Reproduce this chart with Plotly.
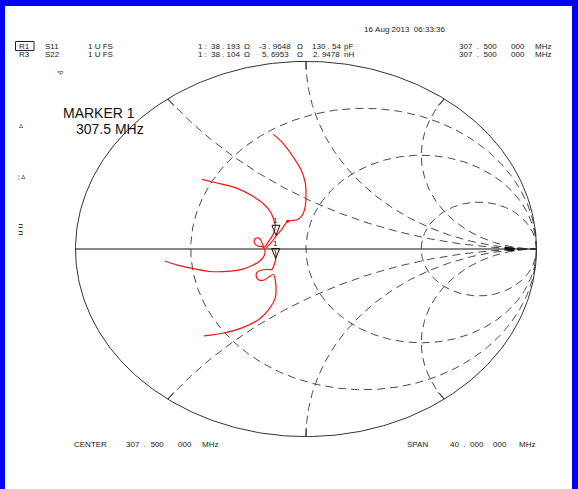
import numpy as np
import plotly.graph_objects as go

W, H = 578, 489
L, R, T, B = 64, 30, 52, 43
RANGE = 1.05
UX = (W - L - R) / (2 * RANGE)
UY = (H - T - B) / (2 * RANGE)

# Smith chart grid values
r_circles = [1 / 3, 1.0, 3.0]
x_arcs = [0.5, 1.0, 2.0, -0.5, -1.0, -2.0]

# Marker 1 readouts (ohm) at 307.5 MHz, reference impedance 50 ohm
z_ref = 50.0
marker_R = [38.193, 38.104]
marker_X = [-3.9648, 5.6953]

seg_a_re = [-0.142, -0.101, -0.058, -0.022, -0.003, 0.000, -0.003, -0.014, -0.036, -0.065,
            -0.080, -0.101, -0.130, -0.152, -0.174]
seg_a_im = [0.611, 0.566, 0.495, 0.424, 0.353, 0.282, 0.228, 0.184, 0.157, 0.152,
            0.148, 0.113, 0.068, 0.033, 0.006]
seg_b_re = [-0.452, -0.391, -0.304, -0.232, -0.181, -0.152, -0.138, -0.133, -0.143, -0.165,
            -0.183, -0.191, -0.209, -0.222, -0.224, -0.213, -0.200, -0.191, -0.183, -0.178,
            -0.181, -0.200, -0.229, -0.274, -0.330, -0.417, -0.504, -0.561, -0.613]
seg_b_im = [0.371, 0.353, 0.326, 0.282, 0.237, 0.193, 0.148, 0.122, 0.077, 0.035,
            0.008, 0.013, 0.016, 0.029, 0.048, 0.059, 0.053, 0.035, 0.005, -0.008,
            -0.035, -0.064, -0.085, -0.107, -0.118, -0.120, -0.101, -0.085, -0.064]
seg_c_re = [-0.135, -0.130, -0.135, -0.148, -0.165, -0.191, -0.213, -0.215, -0.204, -0.181,
            -0.159, -0.141, -0.133, -0.130, -0.133, -0.160, -0.203, -0.275, -0.362, -0.442]
seg_c_im = [-0.003, -0.035, -0.072, -0.109, -0.109, -0.112, -0.125, -0.149, -0.165, -0.165,
            -0.147, -0.136, -0.168, -0.205, -0.259, -0.321, -0.374, -0.419, -0.449, -0.463]
dot_re = [-0.080]
dot_im = [0.148]
blob_re = [0.862, 0.885, 0.905]
blob_im = [0.004, 0.0, -0.004]

# Screen annotation texts
header_date = "16 Aug 2013  06:33:36"
row1_tokens = ["1 :", "38 . 193", "\u03a9", "-3 . 9648", "\u03a9", "130 . 54", "pF"]
row2_tokens = ["1 :", "38 . 104", "\u03a9", "5. 6953", "\u03a9", "2. 9478", "nH"]
freq_tokens = ["307  .  500", "000", "MHz"]
center_tokens = ["CENTER", "307  .  500", "000", "MHz"]
span_tokens = ["SPAN", "40  .  000", "000", "MHz"]

GRID = "#4a4a4a"
fig = go.Figure()

# constant resistance circles
th = np.linspace(0, 2 * np.pi, 400)
for r in r_circles:
    c, rad = r / (1 + r), 1 / (1 + r)
    fig.add_trace(go.Scatter(x=c + rad * np.cos(th), y=rad * np.sin(th), mode="lines",
                             line=dict(color=GRID, width=1, dash="8px,5px"),
                             hoverinfo="skip", showlegend=False))
# constant reactance arcs
rp = np.concatenate([[0.0], np.logspace(-3, 3.5, 500)])
for xv in x_arcs:
    g = (rp + 1j * xv - 1) / (rp + 1j * xv + 1)
    fig.add_trace(go.Scatter(x=g.real, y=g.imag, mode="lines",
                             line=dict(color=GRID, width=1, dash="8px,5px"),
                             hoverinfo="skip", showlegend=False))
    g0 = g[0]
    fig.add_trace(go.Scatter(x=[g0.real, g0.real * 0.955], y=[g0.imag, g0.imag * 0.955],
                             mode="lines", line=dict(color="#333", width=1),
                             hoverinfo="skip", showlegend=False))
# outer circle and real axis
fig.add_trace(go.Scatter(x=np.cos(th), y=np.sin(th), mode="lines",
                         line=dict(color="#333", width=1), hoverinfo="skip", showlegend=False))
fig.add_trace(go.Scatter(x=[-1, 1], y=[0, 0], mode="lines",
                         line=dict(color="#111", width=1.2), hoverinfo="skip", showlegend=False))

# measured trace
for sx, sy in [(seg_a_re, seg_a_im), (seg_b_re, seg_b_im), (seg_c_re, seg_c_im)]:
    fig.add_trace(go.Scatter(x=sx, y=sy, mode="lines",
                             line=dict(color="#ff1010", width=1.2, shape="spline", smoothing=0.8),
                             hoverinfo="skip", showlegend=False))
fig.add_trace(go.Scatter(x=dot_re, y=dot_im, mode="markers",
                         marker=dict(color="#ff1010", size=3), hoverinfo="skip", showlegend=False))
fig.add_trace(go.Scatter(x=blob_re, y=blob_im, mode="lines",
                         line=dict(color="#111", width=3.5), hoverinfo="skip", showlegend=False))

# markers (inverted triangles with tip on the point)
annotations = []
for Rm, Xm in zip(marker_R, marker_X):
    z = complex(Rm, Xm) / z_ref
    g = (z - 1) / (z + 1)
    tx = [g.real - 4 / UX, g.real + 4 / UX, g.real, g.real - 4 / UX]
    ty = [g.imag + 10 / UY, g.imag + 10 / UY, g.imag, g.imag + 10 / UY]
    fig.add_trace(go.Scatter(x=tx, y=ty, mode="lines", line=dict(color="#111", width=1),
                             hoverinfo="skip", showlegend=False))
    annotations.append(dict(x=g.real, y=g.imag + 15 / UY, xref="x", yref="y", text="1",
                            showarrow=False, font=dict(size=8, color="#111",
                                                       family="Liberation Sans")))


def px(x):
    return (x - L) / (W - L - R)


def py(y):
    return 1 - (y - T) / (H - T - B)


NB = "\u00a0"
small = dict(family="Liberation Sans, Arial, sans-serif", size=8, color="#222")
tiny = dict(family="Liberation Sans", size=6, color="#333")


def txt(s, x, y, font=small, anchor="left"):
    annotations.append(dict(x=px(x), y=py(y), xref="paper", yref="paper", text=s.replace(" ", NB),
                            showarrow=False, xanchor=anchor, yanchor="middle", font=font))


txt(header_date, 362, 30)
for s, x in zip(["R1", "S11", "1 U FS"], [17, 43, 86]):
    txt(s, x, 46)
for s, x in zip(["R3", "S22", "1 U FS"], [17, 43, 86]):
    txt(s, x, 55)
for s, x in zip(row1_tokens, [196, 209, 242, 257, 295, 310, 342]):
    txt(s, x, 46)
for s, x in zip(row2_tokens, [196, 209, 242, 260, 295, 311, 342]):
    txt(s, x, 55)
for yy in (46, 55):
    for s, x in zip(freq_tokens, [457, 509, 533]):
        txt(s, x, yy)
txt("*P", 55, 73, font=tiny)
txt("\u0394", 17, 126, font=tiny)
txt("\u00a6 \u0394", 16, 177, font=tiny)
txt("\u2290", 16, 226, font=tiny)
txt("\u2290", 16, 233, font=tiny)
big = dict(family="Liberation Sans, Arial, sans-serif", size=14, color="#111")
txt("MARKER 1", 61, 113, font=big)
txt("307.5 MHz", 74, 129, font=big)
for s, x in zip(center_tokens, [72, 124, 176, 200]):
    txt(s, x, 444)
for s, x in zip(span_tokens, [405, 448, 491, 517]):
    txt(s, x, 444)

# blue frame
BLUE = "#0000ff"
shapes = [
    dict(type="rect", xref="paper", yref="paper", x0=px(0), x1=px(5), y0=py(H), y1=py(0),
         fillcolor=BLUE, line=dict(width=0), layer="above"),
    dict(type="rect", xref="paper", yref="paper", x0=px(0), x1=px(W), y0=py(6), y1=py(0),
         fillcolor=BLUE, line=dict(width=0), layer="above"),
    dict(type="rect", xref="paper", yref="paper", x0=px(572), x1=px(W), y0=py(H), y1=py(0),
         fillcolor=BLUE, line=dict(width=0), layer="above"),
    dict(type="rect", xref="paper", yref="paper", x0=px(15.5), x1=px(34), y0=py(50.5), y1=py(41.5),
         line=dict(color="#222", width=1), fillcolor="rgba(0,0,0,0)"),
]

fig.update_layout(
    width=W, height=H, margin=dict(l=L, r=R, t=T, b=B, pad=0),
    paper_bgcolor="white", plot_bgcolor="white",
    xaxis=dict(range=[-RANGE, RANGE], visible=False, fixedrange=True),
    yaxis=dict(range=[-RANGE, RANGE], visible=False, fixedrange=True),
    annotations=annotations, shapes=shapes, showlegend=False,
)
fig.write_html("out.html", config={"displayModeBar": False},
               post_script="document.body.style.margin='0';")
